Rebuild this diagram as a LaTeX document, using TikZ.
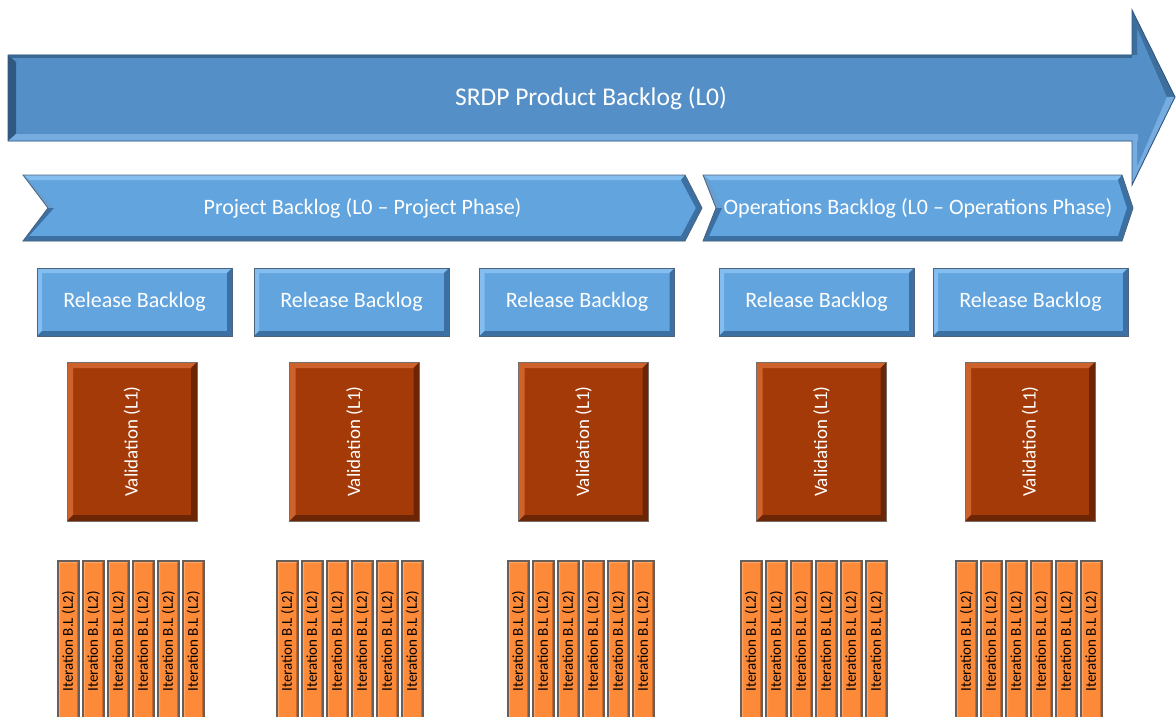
\documentclass[tikz,border=0pt]{standalone}
\usepackage{fontspec}
\setmainfont{Carlito}
\usepackage{graphicx}
\definecolor{topblue}{RGB}{84,143,199}
\definecolor{topdark}{RGB}{48,88,128}
\definecolor{toplight}{RGB}{118,172,224}
\definecolor{relblue}{RGB}{98,164,222}
\definecolor{rellight}{RGB}{132,190,240}
\definecolor{reldark}{RGB}{60,112,162}
\definecolor{relborder}{RGB}{78,100,124}
\definecolor{valred}{RGB}{164,58,8}
\definecolor{vallight}{RGB}{206,98,44}
\definecolor{valdark}{RGB}{108,38,6}
\definecolor{valborder}{RGB}{120,110,105}
\definecolor{iterorange}{RGB}{253,138,56}
\definecolor{iterlight}{RGB}{255,165,100}
\definecolor{iterdark}{RGB}{205,105,40}
\definecolor{iterborder}{RGB}{105,95,90}
\tikzset{
  bev/.style n args={3}{path picture={
    \fill[#2] (path picture bounding box.north west) -- (path picture bounding box.north east)
      -- ([shift={(-#1,-#1)}]path picture bounding box.north east) -- ([shift={(#1,-#1)}]path picture bounding box.north west) -- cycle;
    \fill[#2] (path picture bounding box.north west) -- ([shift={(#1,-#1)}]path picture bounding box.north west)
      -- ([shift={(#1,#1)}]path picture bounding box.south west) -- (path picture bounding box.south west) -- cycle;
    \fill[#3] (path picture bounding box.north east) -- (path picture bounding box.south east)
      -- ([shift={(-#1,#1)}]path picture bounding box.south east) -- ([shift={(-#1,-#1)}]path picture bounding box.north east) -- cycle;
    \fill[#3] (path picture bounding box.south west) -- (path picture bounding box.south east)
      -- ([shift={(-#1,#1)}]path picture bounding box.south east) -- ([shift={(#1,#1)}]path picture bounding box.south west) -- cycle;
  }},
  relbox/.style={rectangle, fill=relblue, draw=relborder, line width=0.9pt,
    minimum width=195pt, minimum height=68pt, inner sep=0pt, text=white,
    font=\fontsize{22}{26}\selectfont, bev={5pt}{rellight}{reldark}},
  valbox/.style={rectangle, fill=valred, draw=valborder, line width=0.9pt,
    minimum width=130pt, minimum height=159pt, inner sep=0pt, text=white,
    font=\fontsize{19}{22}\selectfont, bev={6pt}{vallight}{valdark}},
  iterbar/.style={rectangle, fill=iterorange, draw=iterborder, line width=1.3pt,
    minimum width=21pt, minimum height=161pt, inner sep=0pt, text=black,
    font=\fontsize{15}{18}\selectfont, bev={2pt}{iterlight}{iterdark}},
  bandtext/.style={text=white, inner sep=0pt, font=\fontsize{22}{26}\selectfont},
}
\begin{document}
\begin{tikzpicture}[x=1pt,y=-1pt]
\useasboundingbox (0,0) rectangle (1176,717);
% --- top arrow (SRDP Product Backlog)
\fill[topblue] (8,55) -- (1132,55) -- (1132,10) -- (1175,97) -- (1132,185) -- (1132,141) -- (8,141) -- cycle;
\fill[topdark] (8,55) -- (16,62) -- (16,134) -- (8,141) -- cycle;
\fill[topdark!70!topblue] (8,55) -- (1132,55) -- (1132,58) -- (11,58) -- cycle;
\fill[toplight] (8,141) -- (16,134) -- (1138,134) -- (1138,141) -- cycle;
\fill[topdark!60!topblue] (1132,10) -- (1175,97) -- (1167,97) -- (1137,28) -- (1137,55) -- (1132,55) -- cycle;
\fill[toplight] (1175,97) -- (1132,185) -- (1132,141) -- (1137,141) -- (1137,167) -- (1167,97) -- cycle;
\draw[topdark, line width=0.9pt] (8,55) -- (1132,55) -- (1132,10) -- (1175,97) -- (1132,185) -- (1132,141) -- (8,141) -- cycle;
\node[text=white, inner sep=0pt, font=\fontsize{25.5}{30}\selectfont] (srdp) at (591,98) {SRDP Product Backlog (L0)};
% --- project chevron
\fill[relblue] (23,175) -- (685,175) -- (702,208) -- (685,241) -- (23,241) -- (48,208) -- cycle;
\fill[rellight] (23,175) -- (685,175) -- (681,180) -- (29,180) -- cycle;
\fill[reldark] (23,241) -- (685,241) -- (681,236) -- (29,236) -- cycle;
\fill[reldark] (685,175) -- (702,208) -- (696,208) -- (681,180) -- cycle;
\fill[reldark] (702,208) -- (685,241) -- (681,236) -- (696,208) -- cycle;
\fill[rellight!60!reldark] (23,175) -- (48,208) -- (54,208) -- (29,180) -- cycle;
\fill[reldark] (48,208) -- (23,241) -- (29,236) -- (54,208) -- cycle;
\draw[relborder, line width=0.8pt] (23,175) -- (685,175) -- (702,208) -- (685,241) -- (23,241) -- (48,208) -- cycle;
\node[bandtext] (proj) at (362.5,208) {Project Backlog (L0 – Project Phase)};
% --- operations chevron
\fill[relblue] (703,175) -- (1122,175) -- (1133,208) -- (1122,241) -- (703,241) -- (716,208) -- cycle;
\fill[rellight] (703,175) -- (1122,175) -- (1118,180) -- (709,180) -- cycle;
\fill[reldark] (703,241) -- (1122,241) -- (1118,236) -- (709,236) -- cycle;
\fill[reldark] (1122,175) -- (1133,208) -- (1127,208) -- (1118,180) -- cycle;
\fill[reldark] (1133,208) -- (1122,241) -- (1118,236) -- (1127,208) -- cycle;
\fill[rellight!60!reldark] (703,175) -- (716,208) -- (722,208) -- (709,180) -- cycle;
\fill[reldark] (716,208) -- (703,241) -- (709,236) -- (722,208) -- cycle;
\draw[relborder, line width=0.8pt] (703,175) -- (1122,175) -- (1133,208) -- (1122,241) -- (703,241) -- (716,208) -- cycle;
\node[bandtext] (ops) at (918,208) {Operations Backlog (L0 – Operations Phase)};
% --- release backlogs
\node[relbox] (r1) at (134.5,302) {Release Backlog};
\node[relbox] (r2) at (351.5,302) {Release Backlog};
\node[relbox] (r3) at (577,302) {Release Backlog};
\node[relbox] (r4) at (816.5,302) {Release Backlog};
\node[relbox] (r5) at (1030.5,302) {Release Backlog};
% --- validation
\node[valbox] (v1) at (132,441.5) {\rotatebox{90}{Validation (L1)}};
\node[valbox] (v2) at (354.5,441.5) {\rotatebox{90}{Validation (L1)}};
\node[valbox] (v3) at (583.5,441.5) {\rotatebox{90}{Validation (L1)}};
\node[valbox] (v4) at (821.5,441.5) {\rotatebox{90}{Validation (L1)}};
\node[valbox] (v5) at (1030,441.5) {\rotatebox{90}{Validation (L1)}};
% --- iteration backlogs
\foreach \g/\sx in {1/58,2/277,3/508,4/741,5/956}{
  \foreach \k in {0,...,5}{
    \node[iterbar] (it\g-\k) at ({\sx+10.5+25*\k},641.5) {\rotatebox{90}{Iteration B.L (L2)}};
  }
}
\end{tikzpicture}
\end{document}
